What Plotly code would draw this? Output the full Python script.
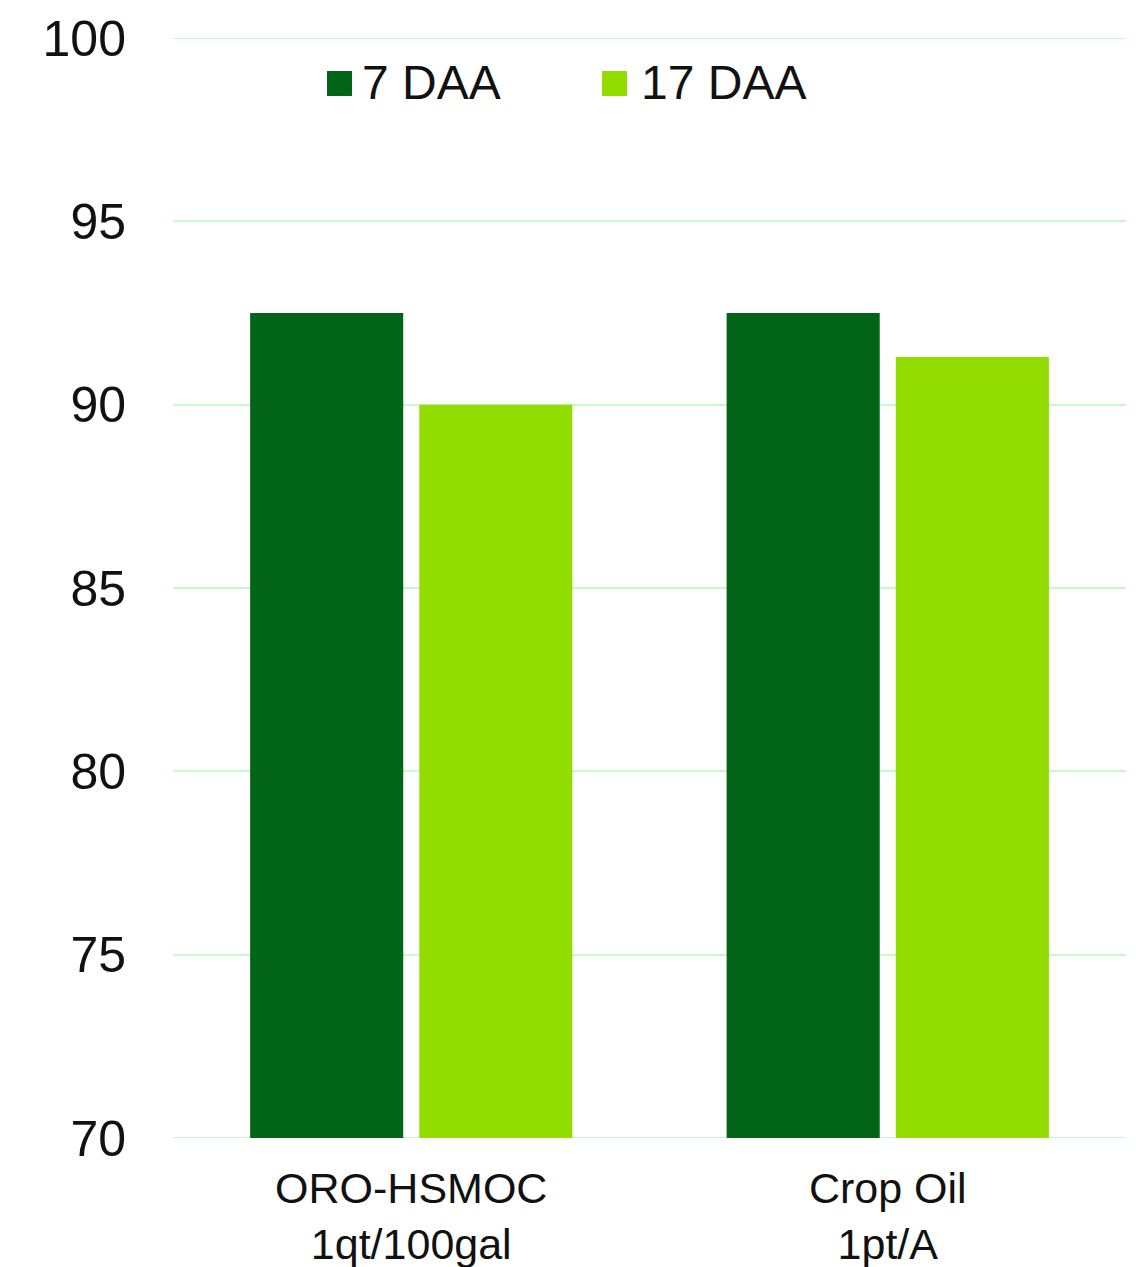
import plotly.graph_objects as go

categories = ["ORO-HSMOC<br>1qt/100gal", "Crop Oil<br>1pt/A"]
series_names = ["7 DAA", "17 DAA"]
values_7daa = [92.5, 92.5]
values_17daa = [90.0, 91.3]
y_ticks = [70, 75, 80, 85, 90, 95, 100]

colors = ["#026417", "#92DC00"]
GRID = "#C6FACD"
FONT = "Liberation Sans, Arial, sans-serif"

fig = go.Figure()
for name, vals, col in zip(series_names, [values_7daa, values_17daa], colors):
    fig.add_trace(go.Bar(x=categories, y=vals, name=name, marker=dict(color=col, line=dict(width=0)),
                         showlegend=False))

# gridlines at the range edges (plotly skips those)
for yv in (y_ticks[0], y_ticks[-1]):
    fig.add_shape(type="line", xref="paper", yref="y", x0=0, x1=1, y0=yv, y1=yv,
                  line=dict(color=GRID, width=2), layer="below")

# custom legend (large square swatches like the original)
legend_boxes = [(0.1616, 0.1878, 0.1962), (0.4502, 0.4764, 0.489)]
for (x0, x1, tx), name, col in zip(legend_boxes, series_names, colors):
    fig.add_shape(type="rect", xref="paper", yref="paper", x0=x0, x1=x1, y0=0.9473, y1=0.970,
                  fillcolor=col, line=dict(width=0))
    fig.add_annotation(xref="paper", yref="paper", x=tx, y=0.960, text=name, showarrow=False,
                       xanchor="left", yanchor="middle", font=dict(family=FONT, size=48, color="#111111"))

# the page body adds an 8px margin, so the figure is sized to fill the rest of the window
fig.update_layout(
    width=1128, height=1259,
    margin=dict(l=165, r=10, t=30, b=129, autoexpand=False),
    paper_bgcolor="white", plot_bgcolor="white",
    barmode="group", bargap=0.29, bargroupgap=0.095,
    font=dict(family=FONT, color="#111111"),
    showlegend=False,
)
fig.update_yaxes(range=[70, 100], tickvals=y_ticks, showgrid=True, gridcolor=GRID, gridwidth=2,
                 zeroline=False, showline=False, ticks="", ticklabelstandoff=46, automargin=False,
                 tickfont=dict(family=FONT, size=50, color="#111111"))
fig.update_xaxes(showgrid=False, showline=False, ticks="", ticklabelstandoff=21, automargin=False,
                 tickfont=dict(family=FONT, size=43, color="#111111"))

fig.write_html("out.html")
